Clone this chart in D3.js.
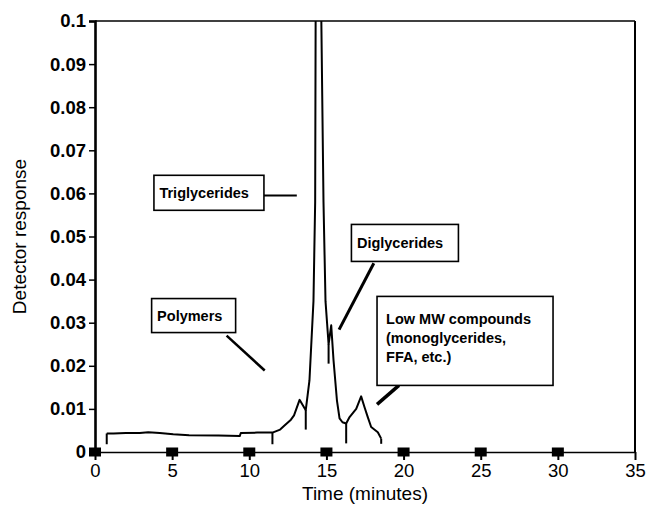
<!DOCTYPE html>
<html lang="en">
<head>
  <meta charset="UTF-8">
  <title>Detector response vs time</title>
  <script src="https://d3js.org/d3.v7.min.js"></script>
  <style>
    body { margin: 0; background: #fff; font-family: "Liberation Sans", Arial, Helvetica, sans-serif; }
    svg { display: block; }
  </style>
</head>
<body>
  <div id="chart"></div>
  <script>
    // trace (time in minutes, detector response)
    const traceTime = [0.76, 1.2, 2.0, 2.9, 3.45, 4.2, 5.07, 6.1, 8.0, 9.38, 9.45, 10.5, 11.5,
      12.0, 12.3, 12.7, 12.9, 13.26, 13.66, 13.9, 14.16, 14.27, 14.3, 14.48,
      14.67, 14.81, 14.94, 15.14, 15.31, 15.46, 15.68, 15.85, 16.04, 16.28,
      16.5, 16.93, 17.25, 17.47, 17.68, 17.9, 18.33, 18.55];
    const traceValue = [0.0043, 0.0043, 0.0044, 0.0044, 0.0046, 0.0044, 0.0041, 0.0039, 0.0038, 0.0037, 0.0044, 0.0045, 0.0045,
      0.0052, 0.0062, 0.0075, 0.0085, 0.0121, 0.0097, 0.0166, 0.035, 0.058, 0.1, 0.16,
      0.1, 0.058, 0.035, 0.025, 0.0294, 0.0213, 0.012, 0.0078, 0.0069, 0.0066,
      0.0081, 0.01, 0.0129, 0.0104, 0.0081, 0.0058, 0.0046, 0.0031];

    // short vertical event marks under the trace
    const dropTime   = [0.76, 11.5, 13.66, 15.14, 16.28, 18.55];
    const dropTop    = [0.0043, 0.0045, 0.0097, 0.025, 0.0066, 0.0031];
    const dropBottom = [0.0018, 0.0018, 0.0052, 0.0205, 0.002, 0.0019];

    // square markers on the zero baseline
    const markerTime = [0, 5, 10, 15, 20, 25, 30];

    const xTicks = [0, 5, 10, 15, 20, 25, 30, 35];
    const yTicks = [0, 0.01, 0.02, 0.03, 0.04, 0.05, 0.06, 0.07, 0.08, 0.09, 0.1];
    const yTickLabels = ["0", "0.01", "0.02", "0.03", "0.04", "0.05", "0.06", "0.07", "0.08", "0.09", "0.1"];

    const annotations = [
      { lines: ["Polymers"], box: [3.67, 0.0356], w: 84, h: 34, from: [8.53, 0.0270], to: [11.0, 0.0189], lw: 2.5 },
      { lines: ["Triglycerides"], box: [3.82, 0.0642], w: 110, h: 35, from: [10.94, 0.0595], to: [13.08, 0.0595], lw: 2 },
      { lines: ["Diglycerides"], box: [16.62, 0.0528], w: 107, h: 37, from: [18.07, 0.0438], to: [15.82, 0.0284], lw: 3 },
      { lines: ["Low MW compounds", "(monoglycerides,", "FFA, etc.)"], box: [18.28, 0.0361], w: 176, h: 89, from: [19.70, 0.01546], to: [18.28, 0.01105], lw: 3.5 }
    ];

    const svgWidth = 650, svgHeight = 507;
    const margin = { top: 21, right: 15, bottom: 55, left: 95 },
          width = svgWidth - margin.left - margin.right,
          height = svgHeight - margin.top - margin.bottom;

    const svg = d3.select("#chart").append("svg")
        .attr("width", svgWidth)
        .attr("height", svgHeight);
    const g = svg.append("g")
        .attr("transform", `translate(${margin.left},${margin.top})`);

    const x = d3.scaleLinear().domain([0, 35]).range([0, width]);
    const y = d3.scaleLinear().domain([0, 0.1]).range([height, 0]);

    g.append("clipPath").attr("id", "plot-clip")
      .append("rect").attr("width", width).attr("height", height);

    // frame top and right
    g.append("line").attr("x1", 0).attr("x2", width).attr("y1", 0).attr("y2", 0)
      .attr("stroke", "#000").attr("stroke-width", 1.6);
    g.append("line").attr("x1", width).attr("x2", width).attr("y1", 0).attr("y2", height)
      .attr("stroke", "#000").attr("stroke-width", 2);

    // y axis
    const yAxis = g.append("g")
      .call(d3.axisLeft(y).tickValues(yTicks).tickSize(6).tickPadding(3)
        .tickFormat((d, i) => yTickLabels[i]));
    yAxis.select(".domain").attr("stroke-width", 2.6);
    yAxis.selectAll(".tick line").attr("stroke-width", 1.5);
    yAxis.selectAll("text")
      .attr("fill", "#000")
      .style("font-family", "'Liberation Sans', Arial, sans-serif")
      .style("font-size", "18.5px")
      .style("font-weight", "bold");

    // x axis on the zero line
    const xAxis = g.append("g")
      .attr("transform", `translate(0,${height})`)
      .call(d3.axisBottom(x).tickValues(xTicks).tickSize(8).tickPadding(4).tickSizeOuter(0));
    xAxis.select(".domain").attr("stroke-width", 1.6);
    xAxis.selectAll(".tick line").attr("stroke-width", 2);
    xAxis.selectAll("text")
      .attr("fill", "#000")
      .style("font-family", "'Liberation Sans', Arial, sans-serif")
      .style("font-size", "18.5px");

    // square markers
    g.selectAll(".marker")
      .data(markerTime)
      .enter().append("rect")
      .attr("class", "marker")
      .attr("x", d => x(d) - 6)
      .attr("y", y(0) - 4.5)
      .attr("width", 12)
      .attr("height", 9)
      .attr("fill", "#000");

    // trace
    const traceData = traceTime.map((t, i) => ({ t: t, v: traceValue[i] }));
    const line = d3.line().x(d => x(d.t)).y(d => y(d.v));
    g.append("path")
      .datum(traceData)
      .attr("clip-path", "url(#plot-clip)")
      .attr("fill", "none")
      .attr("stroke", "#000")
      .attr("stroke-width", 2)
      .attr("stroke-linejoin", "round")
      .attr("d", line);

    g.selectAll(".drop")
      .data(dropTime)
      .enter().append("line")
      .attr("class", "drop")
      .attr("x1", d => x(d)).attr("x2", d => x(d))
      .attr("y1", (d, i) => y(dropTop[i]))
      .attr("y2", (d, i) => y(dropBottom[i]))
      .attr("stroke", "#000")
      .attr("stroke-width", 2);

    // annotation boxes with leader lines
    annotations.forEach(a => {
      const bx = x(a.box[0]), by = y(a.box[1]);
      g.append("line")
        .attr("x1", x(a.from[0])).attr("y1", y(a.from[1]))
        .attr("x2", x(a.to[0])).attr("y2", y(a.to[1]))
        .attr("stroke", "#000")
        .attr("stroke-width", a.lw);
      g.append("rect")
        .attr("x", bx).attr("y", by)
        .attr("width", a.w).attr("height", a.h)
        .attr("fill", "#fff")
        .attr("stroke", "#000")
        .attr("stroke-width", 1.6);
      const multi = a.lines.length > 1;
      a.lines.forEach((txt, i) => {
        g.append("text")
          .attr("x", bx + (multi ? 9 : 5.5))
          .attr("y", by + (multi ? 28 + i * 19 : a.h / 2 + 5))
          .style("font-size", "14.5px")
          .style("font-weight", "bold")
          .text(txt);
      });
    });

    // axis titles
    svg.append("text")
      .attr("x", margin.left + x(17.5))
      .attr("y", 500)
      .attr("text-anchor", "middle")
      .style("font-size", "19px")
      .text("Time (minutes)");
    svg.append("text")
      .attr("transform", `translate(26,${margin.top + y(0.05)}) rotate(-90)`)
      .attr("text-anchor", "middle")
      .style("font-size", "19px")
      .text("Detector response");
  </script>
</body>
</html>
